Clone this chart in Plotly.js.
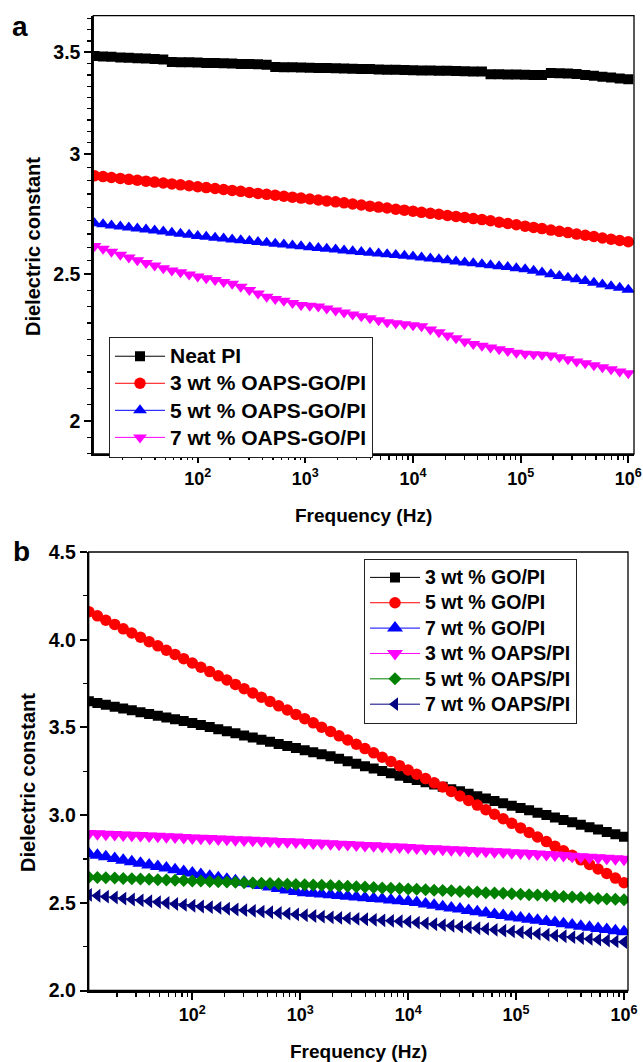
<!DOCTYPE html>
<html>
<head>
<meta charset="utf-8">
<script src="https://cdn.plot.ly/plotly-3.0.1.min.js"></script>
<style>
html,body{margin:0;padding:0;background:#fff;}
#chart{width:643px;height:1062px;}
</style>
</head>
<body>
<div id="chart"></div>
<script>
// ---------- data ----------
const freq = [11.0, 13.2, 15.8, 19.1, 22.9, 27.5, 33.1, 39.8, 47.9, 57.5, 69.2, 83.2,
  100, 120, 145, 174, 209, 251, 302, 363, 437, 525, 631, 759, 912,
  1100, 1320, 1580, 1910, 2290, 2750, 3310, 3980, 4790, 5750, 6920, 8320,
  10000, 12000, 14500, 17400, 20900, 25100, 30200, 36300, 43700, 52500, 63100, 75900, 91200,
  110000, 132000, 158000, 191000, 229000, 275000, 331000, 398000, 479000, 575000, 692000, 832000, 1000000];

// panel a
const neatPI = [3.480,3.478,3.476,3.473,3.471,3.469,3.467,3.465,3.462,3.449,3.448,3.447,3.446,3.444,3.443,3.442,3.441,3.439,3.438,3.437,3.435,3.423,3.422,3.421,3.420,3.419,3.418,3.417,3.416,3.415,3.414,3.413,3.412,3.410,3.409,3.408,3.407,3.406,3.405,3.404,3.403,3.403,3.402,3.401,3.400,3.399,3.385,3.385,3.384,3.384,3.383,3.382,3.381,3.392,3.391,3.389,3.386,3.381,3.377,3.373,3.368,3.364,3.360];
const oapsGO3 = [2.902,2.898,2.894,2.890,2.886,2.882,2.878,2.874,2.870,2.866,2.862,2.858,2.854,2.850,2.846,2.842,2.838,2.834,2.829,2.825,2.821,2.817,2.813,2.809,2.805,2.801,2.797,2.793,2.789,2.785,2.780,2.776,2.771,2.767,2.763,2.758,2.754,2.750,2.745,2.741,2.737,2.732,2.728,2.724,2.719,2.715,2.710,2.704,2.699,2.694,2.688,2.683,2.678,2.672,2.667,2.662,2.656,2.651,2.646,2.640,2.635,2.630,2.625];
const oapsGO5 = [2.700,2.696,2.691,2.687,2.683,2.679,2.674,2.670,2.666,2.661,2.657,2.653,2.648,2.645,2.641,2.638,2.634,2.631,2.628,2.624,2.621,2.617,2.614,2.610,2.607,2.603,2.600,2.597,2.594,2.591,2.588,2.585,2.582,2.579,2.576,2.573,2.570,2.567,2.563,2.559,2.556,2.552,2.548,2.544,2.541,2.537,2.533,2.529,2.526,2.522,2.518,2.512,2.505,2.499,2.492,2.486,2.480,2.473,2.467,2.460,2.454,2.448,2.441];
const oapsGO7 = [2.608,2.597,2.586,2.574,2.563,2.552,2.542,2.532,2.522,2.513,2.506,2.498,2.490,2.484,2.477,2.470,2.463,2.452,2.440,2.427,2.415,2.407,2.400,2.392,2.385,2.382,2.379,2.372,2.365,2.358,2.351,2.344,2.337,2.330,2.323,2.320,2.316,2.313,2.309,2.298,2.288,2.277,2.267,2.256,2.248,2.242,2.236,2.230,2.224,2.218,2.215,2.213,2.211,2.209,2.203,2.196,2.189,2.183,2.176,2.170,2.163,2.156,2.150];

// panel b
const go3 = [3.649,3.639,3.629,3.618,3.608,3.598,3.587,3.577,3.567,3.556,3.546,3.536,3.525,3.514,3.502,3.490,3.478,3.466,3.454,3.442,3.430,3.418,3.406,3.394,3.382,3.370,3.359,3.347,3.335,3.321,3.307,3.293,3.279,3.265,3.251,3.238,3.225,3.212,3.200,3.187,3.174,3.161,3.148,3.136,3.122,3.108,3.095,3.081,3.068,3.054,3.040,3.027,3.013,3.000,2.986,2.972,2.959,2.945,2.931,2.918,2.904,2.891,2.877];
const go5 = [4.160,4.136,4.111,4.087,4.062,4.038,4.014,3.989,3.965,3.940,3.916,3.892,3.867,3.843,3.818,3.794,3.770,3.745,3.721,3.696,3.672,3.648,3.623,3.599,3.574,3.550,3.526,3.501,3.477,3.452,3.428,3.404,3.379,3.355,3.330,3.306,3.282,3.257,3.233,3.208,3.184,3.160,3.135,3.109,3.083,3.057,3.031,3.005,2.979,2.953,2.927,2.901,2.875,2.849,2.823,2.797,2.771,2.745,2.719,2.693,2.667,2.641,2.615];
const go7 = [2.780,2.771,2.762,2.753,2.743,2.734,2.725,2.716,2.707,2.698,2.688,2.679,2.670,2.661,2.652,2.643,2.634,2.626,2.617,2.608,2.599,2.590,2.582,2.573,2.564,2.558,2.554,2.550,2.546,2.541,2.537,2.533,2.529,2.525,2.521,2.516,2.512,2.508,2.501,2.493,2.486,2.478,2.471,2.464,2.456,2.449,2.442,2.434,2.427,2.419,2.413,2.406,2.400,2.393,2.387,2.380,2.374,2.367,2.361,2.354,2.348,2.341,2.335];
const oaps3 = [2.895,2.893,2.891,2.889,2.887,2.885,2.883,2.881,2.879,2.877,2.875,2.873,2.870,2.868,2.866,2.864,2.862,2.860,2.858,2.856,2.854,2.852,2.850,2.848,2.846,2.844,2.841,2.839,2.837,2.834,2.832,2.830,2.827,2.825,2.822,2.820,2.818,2.815,2.813,2.810,2.808,2.806,2.803,2.801,2.798,2.796,2.794,2.791,2.789,2.786,2.784,2.781,2.778,2.775,2.772,2.769,2.766,2.763,2.760,2.757,2.754,2.751,2.748];
const oaps5 = [2.646,2.644,2.643,2.641,2.639,2.637,2.636,2.634,2.632,2.630,2.629,2.627,2.625,2.624,2.622,2.620,2.618,2.617,2.615,2.613,2.612,2.610,2.608,2.606,2.605,2.603,2.601,2.600,2.598,2.596,2.594,2.592,2.590,2.587,2.585,2.583,2.581,2.579,2.577,2.575,2.572,2.570,2.568,2.565,2.563,2.561,2.558,2.556,2.554,2.552,2.549,2.546,2.544,2.541,2.538,2.536,2.533,2.530,2.528,2.525,2.522,2.520,2.517];
const oaps7 = [2.545,2.540,2.535,2.530,2.524,2.519,2.514,2.509,2.504,2.499,2.493,2.488,2.483,2.479,2.475,2.471,2.466,2.462,2.458,2.454,2.450,2.446,2.442,2.438,2.434,2.429,2.425,2.421,2.417,2.414,2.411,2.408,2.406,2.403,2.400,2.397,2.395,2.392,2.387,2.383,2.378,2.373,2.369,2.364,2.360,2.355,2.351,2.346,2.341,2.337,2.332,2.328,2.323,2.318,2.313,2.309,2.304,2.299,2.294,2.290,2.285,2.280,2.276];

// labels
const namesA = ['Neat PI', '3 wt % OAPS-GO/PI', '5 wt % OAPS-GO/PI', '7 wt % OAPS-GO/PI'];
const namesB = ['3 wt % GO/PI', '5 wt % GO/PI', '7 wt % GO/PI', '3 wt % OAPS/PI', '5 wt % OAPS/PI', '7 wt % OAPS/PI'];
const xTickVals = [100, 1000, 10000, 100000, 1000000];
const xTickText = ['10<sup>2</sup>', '10<sup>3</sup>', '10<sup>4</sup>', '10<sup>5</sup>', '10<sup>6</sup>'];
const yTickValsA = [2, 2.5, 3, 3.5];
const yTickTextA = ['2', '2.5', '3', '3.5'];
const yTickValsB = [2.0, 2.5, 3.0, 3.5, 4.0, 4.5];
const yTickTextB = ['2.0', '2.5', '3.0', '3.5', '4.0', '4.5'];
const xTitle = 'Frequency (Hz)';
const yTitle = 'Dielectric constant';

// ---------- styling ----------
const FF = 'Liberation Sans, Arial, Helvetica, sans-serif';
const W = 643, H = 1062;

// minor ticks on log x axis (2..9 in each decade)
const xMinor = [];
for (let e = 1; e <= 5; e++) for (let m = 2; m <= 9; m++) xMinor.push(m * Math.pow(10, e));
// minor ticks on log y axis of panel a: 8 evenly (in log) spaced ticks between majors
const yMinorA = [];
for (let k = 0; k < yTickValsA.length - 1; k++) {
  const a = yTickValsA[k], b = yTickValsA[k + 1];
  for (let j = 1; j < 9; j++) yMinorA.push(a * Math.pow(b / a, j / 9));
}
{
  const rLo = Math.pow(2.5 / 2, 1 / 9), rHi = Math.pow(3.5 / 3, 1 / 9);
  for (let j = 1; j <= 3; j++) yMinorA.push(2 / Math.pow(rLo, j));
  for (let j = 1; j <= 4; j++) yMinorA.push(3.5 * Math.pow(rHi, j));
}

const xTickFont = {family: FF, size: 18, color: '#000', weight: 'bold'};
const yTickFont = {family: FF, size: 19.5, color: '#000', weight: 'bold'};

function xAxis(domain, anchor, range) {
  return {
    type: 'log', domain: domain, anchor: anchor, range: range,
    tickmode: 'array', tickvals: xTickVals, ticktext: xTickText,
    ticks: 'outside', ticklen: 7, tickwidth: 2, tickcolor: '#000',
    showline: true, linewidth: 2, linecolor: '#000', mirror: false,
    showgrid: false, zeroline: false, tickfont: xTickFont,
    minor: {ticks: 'outside', ticklen: 4, tickwidth: 1.3, tickcolor: '#000',
            tickmode: 'array', tickvals: xMinor, showgrid: false},
    fixedrange: true
  };
}

const px = v => v / W;
const py = v => 1 - v / H;

const layout = {
  width: W, height: H,
  margin: {l: 0, r: 0, t: 0, b: 0},
  paper_bgcolor: '#fff', plot_bgcolor: '#fff',
  showlegend: true,
  font: {family: FF, color: '#000'},
  xaxis: xAxis([px(93.3), px(634)], 'y', [1.03, 6.053]),
  yaxis: {
    type: 'log', domain: [py(454), py(15.7)], anchor: 'x',
    range: [Math.log10(1.902), Math.log10(3.70)],
    tickmode: 'array', tickvals: yTickValsA, ticktext: yTickTextA,
    ticks: 'outside', ticklen: 7, tickwidth: 2, tickcolor: '#000',
    showline: true, linewidth: 2, linecolor: '#000',
    showgrid: false, zeroline: false, tickfont: yTickFont,
    minor: {ticks: 'outside', ticklen: 4, tickwidth: 1.3, tickcolor: '#000',
            tickmode: 'array', tickvals: yMinorA, showgrid: false},
    fixedrange: true
  },
  xaxis2: xAxis([px(88.7), px(628)], 'y2', [1.04, 6.037]),
  yaxis2: {
    type: 'linear', domain: [py(990.5), py(552)], anchor: 'x2',
    range: [2.0, 4.5],
    tickmode: 'array', tickvals: yTickValsB, ticktext: yTickTextB,
    ticks: 'outside', ticklen: 7, tickwidth: 2, tickcolor: '#000',
    showline: true, linewidth: 2, linecolor: '#000',
    showgrid: false, zeroline: false, tickfont: yTickFont,
    minor: {ticks: 'outside', ticklen: 4, tickwidth: 1.3, tickcolor: '#000',
            dtick: 0.25, tick0: 2, showgrid: false},
    fixedrange: true
  },
  legend: {
    x: px(109), y: py(336.7), xanchor: 'left', yanchor: 'top',
    bgcolor: '#fff', bordercolor: '#222', borderwidth: 1,
    font: {family: FF, size: 18.5, color: '#000', weight: 'bold'},
    itemwidth: 50, traceorder: 'normal'
  },
  legend2: {
    x: px(364), y: py(558.7), xanchor: 'left', yanchor: 'top',
    bgcolor: '#fff', bordercolor: '#222', borderwidth: 1,
    font: {family: FF, size: 17.2, color: '#000', weight: 'bold'},
    itemwidth: 50, traceorder: 'normal'
  },
  shapes: [
    {type: 'rect', xref: 'x domain', yref: 'y domain', x0: 0, x1: 1, y0: 0, y1: 1,
     line: {color: '#000', width: 1.3}, layer: 'above'},
    {type: 'rect', xref: 'x2 domain', yref: 'y2 domain', x0: 0, x1: 1, y0: 0, y1: 1,
     line: {color: '#000', width: 1.3}, layer: 'above'}
  ],
  annotations: [
    {text: 'a', x: px(20), y: py(26), xref: 'paper', yref: 'paper', showarrow: false,
     xanchor: 'center', yanchor: 'middle', font: {family: FF, size: 28, color: '#000', weight: 'bold'}},
    {text: 'b', x: px(21), y: py(551), xref: 'paper', yref: 'paper', showarrow: false,
     xanchor: 'center', yanchor: 'middle', font: {family: FF, size: 28, color: '#000', weight: 'bold'}},
    {text: yTitle, x: px(33), y: py(247), xref: 'paper', yref: 'paper', showarrow: false, textangle: -90,
     xanchor: 'center', yanchor: 'middle', font: {family: FF, size: 20, color: '#000', weight: 'bold'}},
    {text: yTitle, x: px(28), y: py(783), xref: 'paper', yref: 'paper', showarrow: false, textangle: -90,
     xanchor: 'center', yanchor: 'middle', font: {family: FF, size: 20, color: '#000', weight: 'bold'}},
    {text: xTitle, x: px(363.5), y: py(515), xref: 'paper', yref: 'paper', showarrow: false,
     xanchor: 'center', yanchor: 'middle', font: {family: FF, size: 19, color: '#000', weight: 'bold'}},
    {text: xTitle, x: px(358), y: py(1051.5), xref: 'paper', yref: 'paper', showarrow: false,
     xanchor: 'center', yanchor: 'middle', font: {family: FF, size: 19, color: '#000', weight: 'bold'}}
  ]
};

function series(name, y, color, symbol, size, xa, ya, leg, fs) {
  return {
    type: 'scatter', mode: 'lines+markers', x: freq, y: y,
    name: '<span style="font-size:' + fs + 'px">' + name + '</span>',
    xaxis: xa, yaxis: ya, legend: leg,
    line: {color: color, width: 1},
    marker: {color: color, symbol: symbol, size: size, line: {width: 0}},
    cliponaxis: true, hoverinfo: 'x+y'
  };
}

const data = [
  series(namesA[0], neatPI, '#000000', 'square', 10, 'x', 'y', 'legend', 21),
  series(namesA[1], oapsGO3, '#FF0000', 'circle', 11.5, 'x', 'y', 'legend', 21),
  series(namesA[2], oapsGO5, '#0000FF', 'triangle-up', 12, 'x', 'y', 'legend', 21),
  series(namesA[3], oapsGO7, '#FF00FF', 'triangle-down', 12, 'x', 'y', 'legend', 21),
  series(namesB[0], go3, '#000000', 'square', 10, 'x2', 'y2', 'legend2', 19.5),
  series(namesB[1], go5, '#FF0000', 'circle', 11.5, 'x2', 'y2', 'legend2', 19.5),
  series(namesB[2], go7, '#0000FF', 'triangle-up', 14, 'x2', 'y2', 'legend2', 19.5),
  series(namesB[3], oaps3, '#FF00FF', 'triangle-down', 14, 'x2', 'y2', 'legend2', 19.5),
  series(namesB[4], oaps5, '#008000', 'diamond', 10, 'x2', 'y2', 'legend2', 19.5),
  series(namesB[5], oaps7, '#000080', 'triangle-left', 12, 'x2', 'y2', 'legend2', 19.5)
];

Plotly.newPlot('chart', data, layout, {staticPlot: true, displayModeBar: false});
</script>
</body>
</html>
